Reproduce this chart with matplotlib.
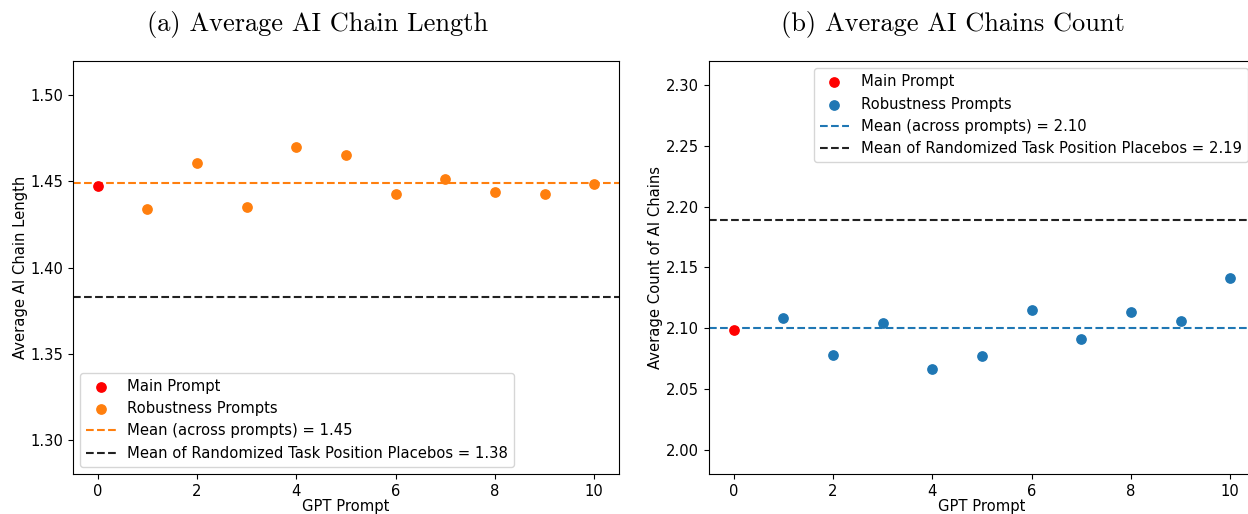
import matplotlib
matplotlib.use("Agg")
import matplotlib.pyplot as plt
import numpy as np

prompts = list(range(11))
chain_length = [1.4473, 1.4341, 1.4609, 1.4353, 1.4698, 1.4651,
                1.4430, 1.4517, 1.4438, 1.4430, 1.4484]
chain_count = [2.0989, 2.1085, 2.0777, 2.1041, 2.0661, 2.0771,
               2.1149, 2.0912, 2.1132, 2.1063, 2.1415]
placebo_length = 1.3826
placebo_count = 2.1893

FS = 10.6

fig = plt.figure(figsize=(12.48, 5.14), dpi=100)
W, H = 1248, 514
ax1 = fig.add_axes([73 / W, 1 - 474 / H, (619 - 73) / W, (474 - 61) / H])
ax2 = fig.add_axes([709 / W, 1 - 474 / H, (1255 - 709) / W, (474 - 61) / H])


def panel(ax, vals, color, placebo, ylabel, ylim, loc):
    mean = np.mean(vals)
    ax.scatter(prompts[:1], vals[:1], color="red", s=45, label="Main Prompt", zorder=3)
    ax.scatter(prompts[1:], vals[1:], color=color, s=45, label="Robustness Prompts", zorder=3)
    ax.axhline(mean, color=color, ls="--", lw=1.5,
               label=f"Mean (across prompts) = {mean:.2f}")
    ax.axhline(placebo, color="#222222", ls="--", lw=1.5,
               label=f"Mean of Randomized Task Position Placebos = {placebo:.2f}")
    ax.set_ylim(*ylim)
    ax.set_xlim(-0.5, 10.5)
    ax.set_xticks([0, 2, 4, 6, 8, 10])
    ax.set_xlabel("GPT Prompt", fontsize=FS, labelpad=0.5)
    ax.set_ylabel(ylabel, fontsize=FS, labelpad=2)
    ax.tick_params(labelsize=FS)
    ax.legend(loc=loc, fontsize=FS)


panel(ax1, chain_length, "#ff7f0e", placebo_length, "Average AI Chain Length",
      (1.28, 1.52), "lower left")
panel(ax2, chain_count, "#1f77b4", placebo_count, "Average Count of AI Chains",
      (1.98, 2.32), "upper right")

fig.text(318 / W, 1 - 25 / H, "(a) Average AI Chain Length", family="cmr10",
         fontsize=19, ha="center", va="center")
fig.text(953 / W, 1 - 25 / H, "(b) Average AI Chains Count", family="cmr10",
         fontsize=19, ha="center", va="center")

fig.savefig("out.png", dpi=100)
